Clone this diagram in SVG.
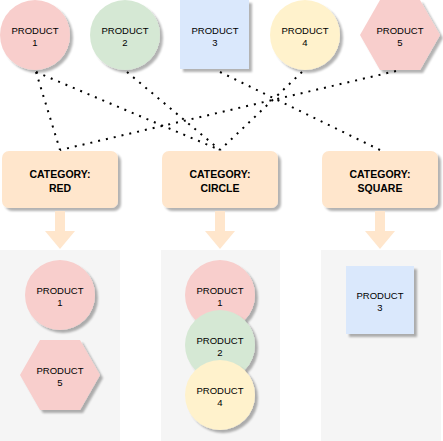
<svg xmlns="http://www.w3.org/2000/svg" width="443" height="441" viewBox="0 0 443 441">
<defs>
<filter id="sh" x="-20%" y="-20%" width="150%" height="150%">
<feGaussianBlur in="SourceAlpha" stdDeviation="1"/>
<feOffset dx="3" dy="3" result="o"/>
<feComponentTransfer><feFuncA type="linear" slope="0.3"/></feComponentTransfer>
<feMerge><feMergeNode/><feMergeNode in="SourceGraphic"/></feMerge>
</filter>
<style>
.red{fill:#f8cecc;filter:url(#sh)}
.green{fill:#d5e8d4;filter:url(#sh)}
.blue{fill:#dae8fc;filter:url(#sh)}
.yellow{fill:#fff2cc;filter:url(#sh)}
.cat{fill:#ffe6cc;filter:url(#sh)}
.arrow{fill:#ffe6cc}
.cont{fill:#f5f5f5}
.t{font-family:"Liberation Sans",Arial,sans-serif;font-size:9.5px;fill:#000;text-anchor:middle}
.tb{font-family:"Liberation Sans",Arial,sans-serif;font-size:10.5px;font-weight:bold;fill:#000;text-anchor:middle}
.dot{fill:none;stroke:#000;stroke-width:2;stroke-dasharray:2 6}
</style>
</defs>
<rect width="443" height="441" fill="#fff"/>

<g id="containers">
<rect class="cont" x="0" y="250" width="120" height="191"/>
<rect class="cont" x="161" y="250" width="119" height="191"/>
<rect class="cont" x="321" y="250" width="120" height="191"/>
</g>

<g id="connectors">
<path class="dot" d="M36,72 L60,150"/>
<path class="dot" d="M36,72 L220,150"/>
<path class="dot" d="M127,72 L220,150"/>
<path class="dot" d="M220,72 L380,150"/>
<path class="dot" d="M302,72 L220,150"/>
<path class="dot" d="M396,71 L60,150"/>
</g>

<g id="product1-top"><circle class="red" cx="35" cy="35" r="35"/><text class="t" x="35" y="34">PRODUCT</text><text class="t" x="35" y="46">1</text></g>
<g id="product2-top"><circle class="green" cx="125" cy="35" r="35"/><text class="t" x="125" y="34">PRODUCT</text><text class="t" x="125" y="46">2</text></g>
<g id="product3-top"><rect class="blue" x="180" y="0" width="69" height="69"/><text class="t" x="215" y="34">PRODUCT</text><text class="t" x="215" y="46">3</text></g>
<g id="product4-top"><circle class="yellow" cx="305" cy="35" r="35"/><text class="t" x="305" y="34">PRODUCT</text><text class="t" x="305" y="46">4</text></g>
<g id="product5-top"><polygon class="red" points="360,35 380,0 420,0 440,35 420,70 380,70"/><text class="t" x="400" y="34">PRODUCT</text><text class="t" x="400" y="46">5</text></g>

<g id="cat-red"><rect class="cat" x="2" y="151" width="116" height="57" rx="7"/><text class="tb" x="60" y="177.5">CATEGORY:</text><text class="tb" x="60" y="191.5">RED</text></g>
<g id="cat-circle"><rect class="cat" x="162" y="151" width="116" height="57" rx="7"/><text class="tb" x="220" y="177.5">CATEGORY:</text><text class="tb" x="220" y="191.5">CIRCLE</text></g>
<g id="cat-square"><rect class="cat" x="322" y="151" width="116" height="57" rx="7"/><text class="tb" x="380" y="177.5">CATEGORY:</text><text class="tb" x="380" y="191.5">SQUARE</text></g>

<g id="arrows">
<polygon class="arrow" points="55,211 65,211 65,231 75,231 60,249 45,231 55,231"/>
<polygon class="arrow" points="215,211 225,211 225,231 235,231 220,249 205,231 215,231"/>
<polygon class="arrow" points="375,211 385,211 385,231 395,231 380,249 365,231 375,231"/>
</g>

<g id="red-product1"><circle class="red" cx="60" cy="295" r="35"/><text class="t" x="60" y="294">PRODUCT</text><text class="t" x="60" y="306">1</text></g>
<g id="red-product5"><polygon class="red" points="20,375 40,340 80,340 100,375 80,410 40,410"/><text class="t" x="60" y="374">PRODUCT</text><text class="t" x="60" y="386">5</text></g>

<g id="circle-product1"><circle class="red" cx="220" cy="295" r="35"/><text class="t" x="220" y="294">PRODUCT</text><text class="t" x="220" y="306">1</text></g>
<g id="circle-product2"><circle class="green" cx="220" cy="345" r="35"/><text class="t" x="220" y="344">PRODUCT</text><text class="t" x="220" y="356">2</text></g>
<g id="circle-product4"><circle class="yellow" cx="220" cy="395" r="35"/><text class="t" x="220" y="394">PRODUCT</text><text class="t" x="220" y="406">4</text></g>

<g id="square-product3"><rect class="blue" x="346" y="266" width="68" height="68"/><text class="t" x="380" y="299">PRODUCT</text><text class="t" x="380" y="311">3</text></g>
</svg>
